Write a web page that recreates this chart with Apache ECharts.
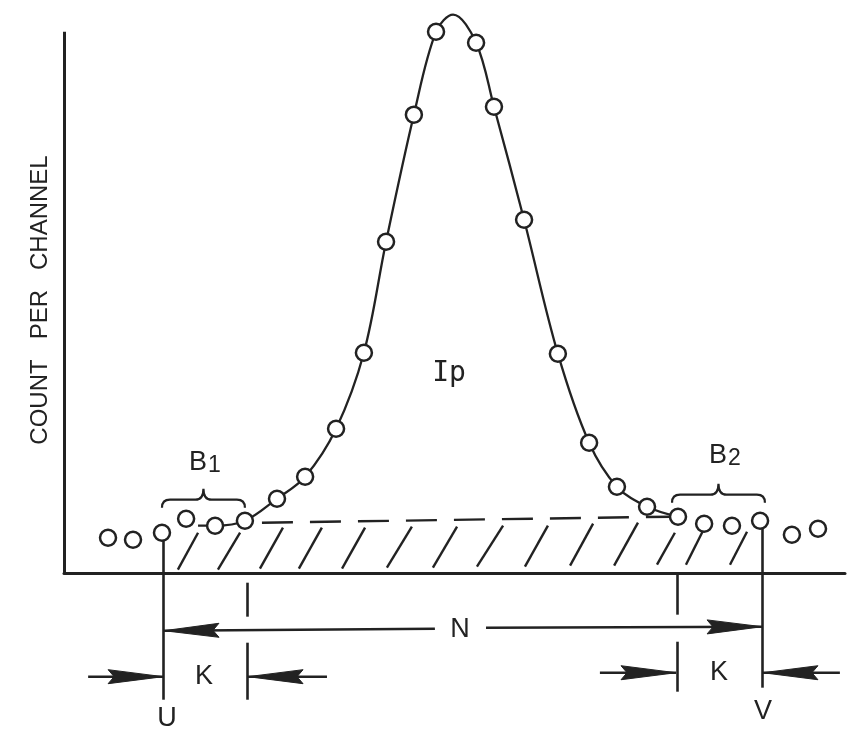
<!DOCTYPE html>
<html><head><meta charset="utf-8">
<script src="https://cdn.jsdelivr.net/npm/echarts@6/dist/echarts.min.js"></script>
<style>html,body{margin:0;padding:0;background:#fff}#c{width:855px;height:747px}</style>
</head><body><div id="c"></div>
<script>
const channels = [1.55, 2.43, 3.45, 4.30, 5.32, 6.37, 7.50, 8.49, 9.58, 10.56, 11.34, 12.32, 13.10,
                  14.51, 15.14, 16.20, 17.39, 18.49, 19.47, 20.53, 21.62, 22.54, 23.52, 24.51, 25.63, 26.55];
const counts   = [6.64, 6.27, 7.56, 10.15, 8.86, 9.78, 13.84, 17.90, 26.75, 40.77, 61.25, 84.69, 100.0,
                  97.97, 86.16, 65.31, 40.59, 24.17, 16.05, 12.36, 10.52, 9.23, 8.86, 9.78, 7.20, 8.30];
// fitted peak curve
const curveX = [4.72, 5.32, 6.37, 7.50, 8.49, 9.58, 10.56, 11.34, 12.32, 13.10, 13.70, 14.51, 15.14,
                16.20, 17.39, 18.49, 19.47, 20.53, 21.62];
const curveY = [8.86, 8.86, 9.78, 13.84, 17.90, 26.75, 40.77, 61.25, 84.69, 100.0, 103.14, 97.97, 86.16,
                65.31, 40.59, 24.17, 16.05, 12.36, 10.52];
// background line B1 -> B2
const baseline = [[6.97, 9.41], [21.41, 10.52]];
// hatch strokes under the background line: [x0, y0, x1, y1]
const hatch = [
  [4.01, 0.74, 4.72, 7.56], [5.42, 0.74, 6.20, 7.56], [6.90, 0.92, 7.71, 8.49], [8.27, 0.92, 9.08, 8.49],
  [9.79, 0.92, 10.60, 8.49], [11.37, 1.11, 12.25, 8.67], [12.99, 1.11, 13.84, 8.67], [14.54, 1.29, 15.46, 8.86],
  [16.23, 1.29, 17.04, 8.86], [17.82, 1.48, 18.63, 9.23], [19.37, 1.48, 20.21, 9.41], [20.88, 1.66, 21.51, 7.56],
  [21.90, 1.66, 22.50, 7.93], [23.45, 1.66, 24.05, 7.75]
];
// y axis
const yAxisLine = [[0, 0], [0, 100]];
// dimension marks (U, K, K, V)
const dimLines = [
  [3.49, 6.09, 3.49, -23.25],
  [6.44, -1.66, 6.44, -7.93], [6.44, -12.73, 6.44, -23.25],
  [21.58, -0.18, 21.58, -7.56], [21.58, -12.55, 21.58, -21.77],
  [24.58, 8.30, 24.58, -21.03]
];
// arrows: from (x0,y0) to tip (x1,y1)
const arrows = [
  [13.06, -10.15, 3.52, -10.52], [14.86, -9.96, 24.58, -9.78],
  [0.85, -19.0, 3.49, -19.0], [9.26, -19.0, 6.48, -19.0],
  [18.87, -18.27, 21.55, -18.27], [27.32, -18.27, 24.61, -18.27]
];
// braces: [xStart, xEnd, yBase]
const braces = [[3.45, 6.37, 12.18], [21.41, 24.68, 13.10]];
// labels: [x, y, text]
const labels = [
  [13.56, 36.9, '{m|Ip}'], [4.96, 20.48, '{b|B}{s|1}'], [23.27, 21.77, '{b|B}{s|2}'],
  [13.94, -10.33, '{b|N}'], [4.93, -19.0, '{b|K}'], [23.06, -18.27, '{b|K}'],
  [3.63, -26.75, '{b|U}'], [24.61, -25.46, '{b|V}']
];
const yTitle = 'COUNT   PER   CHANNEL';

const INK = '#222222';
const chart = echarts.init(document.getElementById('c'), null, {renderer: 'canvas'});
const seg = a => ({coords: [[a[0], a[1]], [a[2], a[3]]]});
chart.setOption({
  backgroundColor: '#ffffff',
  animation: false,
  grid: {left: 64, right: 10, top: 10, bottom: 10.7},
  xAxis: {type: 'value', min: 0, max: 27.5,
    axisLine: {show: true, onZero: true, lineStyle: {color: INK, width: 3}},
    axisTick: {show: false}, axisLabel: {show: false}, splitLine: {show: false}},
  yAxis: {type: 'value', min: -30, max: 104,
    axisLine: {show: false}, axisTick: {show: false}, axisLabel: {show: false}, splitLine: {show: false}},
  graphic: [{type: 'text', x: 40, y: 300, rotation: Math.PI / 2,
    style: {text: yTitle, font: '24px "Liberation Sans", Arial, sans-serif', fill: INK,
      align: 'center', verticalAlign: 'middle'}}],
  series: [
    {type: 'lines', coordinateSystem: 'cartesian2d', clip: false, silent: true,
      lineStyle: {color: INK, width: 3, opacity: 1}, data: [{coords: yAxisLine}]},
    {type: 'lines', coordinateSystem: 'cartesian2d', clip: false, silent: true,
      lineStyle: {color: INK, width: 2.4, opacity: 1}, data: hatch.map(seg)},
    {type: 'lines', coordinateSystem: 'cartesian2d', clip: false, silent: true,
      lineStyle: {color: INK, width: 2.4, opacity: 1, type: [31, 17]}, data: [{coords: baseline}]},
    {type: 'lines', coordinateSystem: 'cartesian2d', clip: false, silent: true, z: 1,
      lineStyle: {color: INK, width: 2.6, opacity: 1}, data: dimLines.map(seg)},
    {type: 'line', smooth: 0.35, showSymbol: false, clip: false, silent: true, z: 2,
      lineStyle: {color: INK, width: 2.3},
      data: curveX.map((x, i) => [x, curveY[i]])},
    {type: 'scatter', symbol: 'circle', symbolSize: 16, z: 5, silent: true,
      itemStyle: {color: '#ffffff', borderColor: INK, borderWidth: 2.5, opacity: 1},
      data: channels.map((x, i) => [x, counts[i]])},
    {type: 'custom', silent: true, clip: false, z: 3,
      data: arrows,
      renderItem: (params, api) => {
        const p0 = api.coord([api.value(0), api.value(1)]);
        const p1 = api.coord([api.value(2), api.value(3)]);
        const dx = p1[0] - p0[0], dy = p1[1] - p0[1];
        const L = Math.hypot(dx, dy), ux = dx / L, uy = dy / L;
        const len = 55, hw = 7;
        const bx = p1[0] - ux * len, by = p1[1] - uy * len;
        return {type: 'group', children: [
          {type: 'line', shape: {x1: p0[0], y1: p0[1], x2: p1[0], y2: p1[1]},
            style: {stroke: INK, lineWidth: 2.4}},
          {type: 'polygon', shape: {points: [[p1[0], p1[1]], [bx - uy * hw, by + ux * hw], [bx + ux * 6, by + uy * 6], [bx + uy * hw, by - ux * hw]]},
            style: {fill: INK, stroke: INK, lineWidth: 1}}
        ]};
      }},
    {type: 'custom', silent: true, clip: false, z: 3,
      data: braces,
      renderItem: (params, api) => {
        const a = api.coord([api.value(0), api.value(2)]);
        const b = api.coord([api.value(1), api.value(2)]);
        const y = a[1], x0 = a[0], x1 = b[0], xm = (x0 + x1) / 2, h = 8, t = 11;
        const d = `M${x0} ${y} Q${x0} ${y - h} ${x0 + h} ${y - h} L${xm - h} ${y - h} Q${xm} ${y - h} ${xm} ${y - h - t} ` +
                  `Q${xm} ${y - h} ${xm + h} ${y - h} L${x1 - h} ${y - h} Q${x1} ${y - h} ${x1} ${y}`;
        return {type: 'path', shape: {pathData: d}, style: {fill: 'none', stroke: INK, lineWidth: 2.2}};
      }},
    {type: 'custom', silent: true, clip: false, z: 6,
      data: labels,
      renderItem: (params, api) => {
        const p = api.coord([api.value(0), api.value(1)]);
        return {type: 'text', x: p[0], y: p[1], style: {
          text: labels[params.dataIndex][2], align: 'center', verticalAlign: 'middle', fill: INK,
          rich: {
            b: {fontFamily: '"Liberation Sans", Arial, sans-serif', fontSize: 27, fill: INK},
            s: {fontFamily: '"Liberation Sans", Arial, sans-serif', fontSize: 23, fill: INK, padding: [6, 0, 0, 1]},
            m: {fontFamily: '"DejaVu Sans Mono", monospace', fontSize: 28, fill: INK}
          }}};
      }}
  ]
});
</script>
</body></html>
